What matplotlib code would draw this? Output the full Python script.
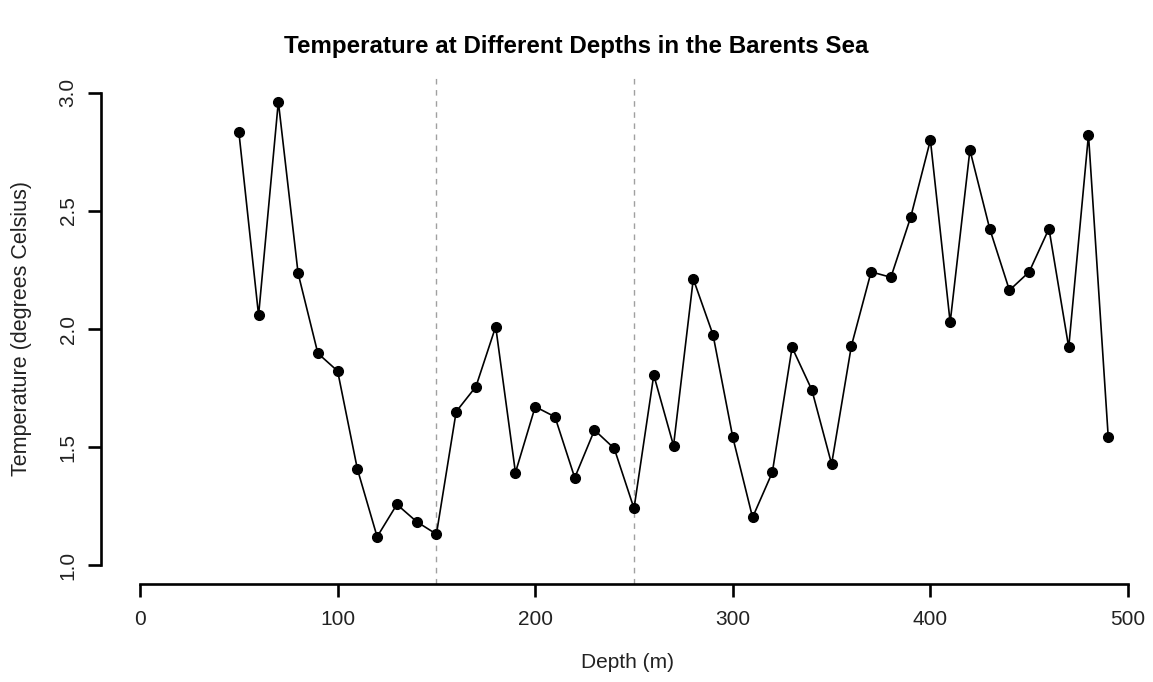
import matplotlib.pyplot as plt

plt.rcParams["font.family"] = ["Liberation Sans", "DejaVu Sans"]

depth = [50, 60, 70, 80, 90, 100, 110, 120, 130, 140, 150, 160, 170, 180, 190,
         200, 210, 220, 230, 240, 250, 260, 270, 280, 290, 300, 310, 320, 330,
         340, 350, 360, 370, 380, 390, 400, 410, 420, 430, 440, 450, 460, 470,
         480, 490]
temperature = [2.836, 2.058, 2.963, 2.236, 1.897, 1.822, 1.407, 1.120, 1.257,
               1.184, 1.131, 1.650, 1.756, 2.010, 1.392, 1.671, 1.628, 1.370,
               1.572, 1.494, 1.240, 1.805, 1.506, 2.212, 1.975, 1.541, 1.202,
               1.393, 1.922, 1.742, 1.428, 1.928, 2.242, 2.219, 2.473, 2.800,
               2.028, 2.758, 2.425, 2.164, 2.242, 2.425, 1.922, 2.823, 1.542]
vlines_at = [150, 250]
xticks = [0, 100, 200, 300, 400, 500]
yticks = [1.0, 1.5, 2.0, 2.5, 3.0]

W, H = 1153, 682
fig = plt.figure(figsize=(W / 100, H / 100), dpi=100)
# plot region in pixels (R style, 4% padding around axis range)
left, right, top, bottom = 100.5, 1153, 74, 584
ax = fig.add_axes([left / W, 1 - bottom / H, (right - left) / W, (bottom - top) / H])

ax.set_xlim(-20, 500 + (right - 1128) / 1.976)
ax.set_ylim(0.92, 3.08)

for v in vlines_at:
    ax.axvline(v, color="#a0a0a0", lw=1, ls=(0, (4, 4)), zorder=1)

ax.plot(depth, temperature, color="black", lw=1.2, marker="o", markersize=7,
        zorder=3, clip_on=False)

for s in ["top", "right"]:
    ax.spines[s].set_visible(False)
ax.spines["left"].set_bounds(1.0, 3.0)
ax.spines["bottom"].set_bounds(0, 500)
for s in ["left", "bottom"]:
    ax.spines[s].set_linewidth(1.9)

ax.set_xticks(xticks)
ax.set_yticks(yticks)
ax.set_xticklabels([str(t) for t in xticks])
ax.set_yticklabels(["%.1f" % t for t in yticks], rotation=90, va="center")
ax.tick_params(axis="both", length=9.5, width=1.9, labelsize=15, colors="black")
ax.tick_params(axis="x", pad=9, labelcolor="#222222")
ax.tick_params(axis="y", pad=7, labelcolor="#222222")

fig.text(576 / W, 1 - 47 / H, "Temperature at Different Depths in the Barents Sea",
         ha="center", va="center", fontsize=17.4, fontweight="bold")
fig.text(628 / W, 1 - 663 / H, "Depth (m)", ha="center", va="center",
         fontsize=15, color="#222222")
fig.text(22 / W, 1 - 329 / H, "Temperature (degrees Celsius)", ha="center",
         va="center", rotation=90, fontsize=15.5, color="#222222")

fig.savefig("out.png", dpi=100)
